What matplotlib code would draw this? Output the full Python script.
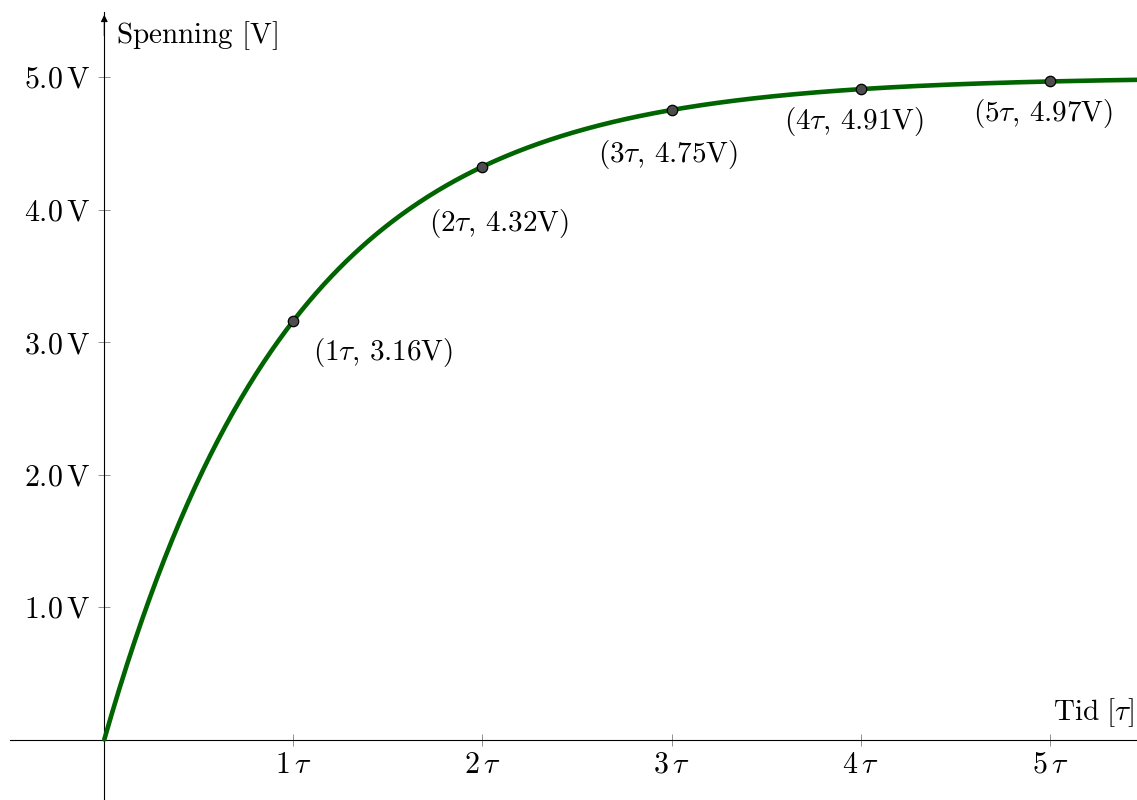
import numpy as np
import matplotlib
matplotlib.use("Agg")
import matplotlib.pyplot as plt

plt.rcParams["mathtext.fontset"] = "cm"
plt.rcParams["font.family"] = "serif"

# RC charging: supply voltage and time constant (time in units of tau)
V_SOURCE = 5.0
TAU = 1.0

# Marked points on the curve
point_t = [1, 2, 3, 4, 5]
point_v = [3.16, 4.32, 4.75, 4.91, 4.97]
point_labels = [r"$(1\tau,\, 3.16\mathrm{V})$", r"$(2\tau,\, 4.32\mathrm{V})$",
                r"$(3\tau,\, 4.75\mathrm{V})$", r"$(4\tau,\, 4.91\mathrm{V})$",
                r"$(5\tau,\, 4.97\mathrm{V})$"]

# Axis ticks
x_ticks = [1, 2, 3, 4, 5]
x_tick_labels = [r"$1\,\tau$", r"$2\,\tau$", r"$3\,\tau$", r"$4\,\tau$", r"$5\,\tau$"]
y_ticks = [1.0, 2.0, 3.0, 4.0, 5.0]
y_tick_labels = [r"$1.0\,\mathrm{V}$", r"$2.0\,\mathrm{V}$", r"$3.0\,\mathrm{V}$",
                 r"$4.0\,\mathrm{V}$", r"$5.0\,\mathrm{V}$"]

W, H = 1137, 800
fig = plt.figure(figsize=(W / 100, H / 100), dpi=100)
ax = fig.add_axes([10 / W, 0, 1 - 10 / W, (H - 12) / H])

px_x = 189.1   # pixels per tau
px_y = 132.5   # pixels per volt
ox, oy = 104.3, 739.5
ax.set_xlim((10 - ox) / px_x, (W - ox) / px_x)
ax.set_ylim(-(H - oy) / px_y, (oy - 12) / px_y)

t = np.linspace(0, 6, 600)
v = V_SOURCE * (1 - np.exp(-t / TAU))
ax.plot(t, v, color="#006400", lw=3.3, solid_capstyle="round", zorder=3)

ax.plot(point_t, point_v, "o", ms=7.5, mfc="#4d4d4d", mec="black", mew=0.9, zorder=4)

# label offsets in pixels (dx, dy) and horizontal alignment
offsets = [(20, -32, "left"), (17, -56, "center"), (-4, -44, "center"),
           (-7, -33, "center"), (-7, -33, "center")]
for x, y, lab, (dx, dy, ha) in zip(point_t, point_v, point_labels, offsets):
    ax.annotate(lab, (x, y), xytext=(dx * 0.72, dy * 0.72), textcoords="offset points",
                ha=ha, va="center", fontsize=21)

for s in ["top", "right"]:
    ax.spines[s].set_visible(False)
ax.spines["left"].set_position(("data", 0))
ax.spines["bottom"].set_position(("data", 0))
for s in ["left", "bottom"]:
    ax.spines[s].set_linewidth(0.8)

ax.set_xticks(x_ticks)
ax.set_xticklabels(x_tick_labels, fontsize=21.5)
ax.set_yticks(y_ticks)
ax.set_yticklabels(y_tick_labels, fontsize=21.5)
ax.tick_params(axis="both", direction="inout", length=8.5, width=0.6, color="#808080")
ax.tick_params(axis="x", pad=4)
ax.tick_params(axis="y", pad=6)

# arrow head at the top of the y axis
ax.annotate("", xy=(0, ax.get_ylim()[1]), xytext=(0, ax.get_ylim()[1] - 0.2),
            arrowprops=dict(arrowstyle="-|>", color="black", lw=0.8,
                            mutation_scale=10), annotation_clip=False)

ax.text(0.06, 5.31, r"$\mathrm{Spenning\ [V]}$", fontsize=21, ha="left", va="center")
ax.text(5.445, 0.2, r"$\mathrm{Tid}\ [\tau]$", fontsize=21, ha="right", va="center")

fig.savefig("out.png", dpi=100)
